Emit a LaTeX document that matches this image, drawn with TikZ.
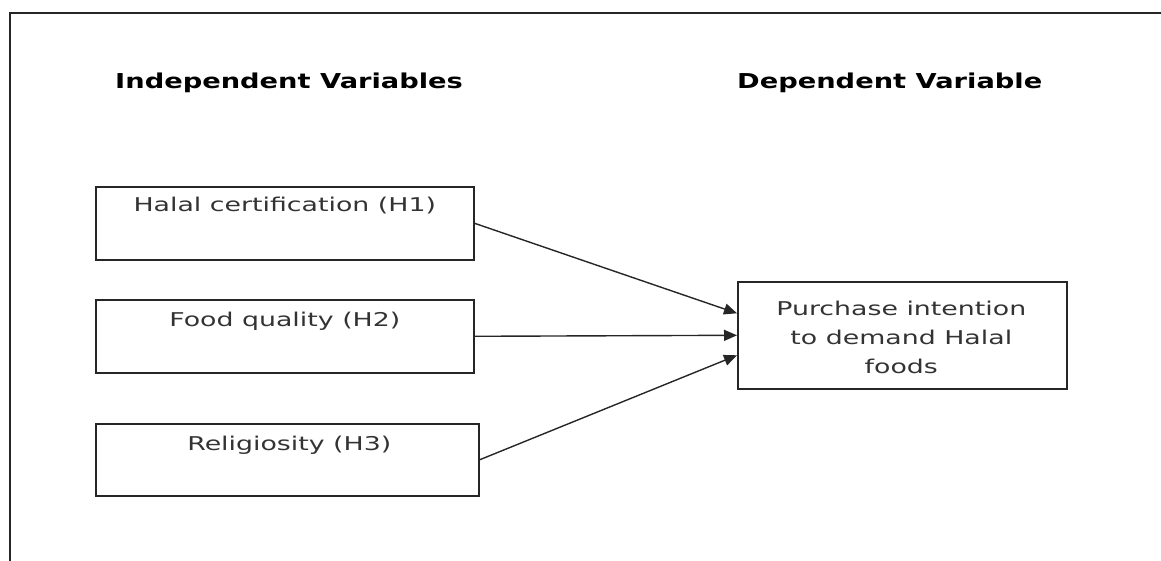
\documentclass[tikz,border=0pt]{standalone}
\usepackage{fontspec}
\setmainfont{DejaVu Sans}
\newfontfamily\boxfont[FakeStretch=1.41]{DejaVu Sans}
\newfontfamily\headfont[FakeStretch=1.33]{DejaVu Sans}
\usetikzlibrary{arrows.meta}
\begin{document}
\begin{tikzpicture}[x=1pt,y=-1pt,
  line/.style={line width=1.6pt,draw=black!85},
  varbox/.style={line, rectangle, inner sep=0pt, anchor=north west},
  boxtext/.style={font=\boxfont\fontsize{19}{29}\selectfont, text=black!80, inner sep=0pt, align=center},
  heading/.style={font=\headfont\bfseries\fontsize{20.5}{24}\selectfont, text=black, inner sep=0pt, anchor=west},
  conn/.style={line width=1.4pt, draw=black!85, -{Triangle[length=13pt,width=11pt]}}]
\useasboundingbox (0,0) rectangle (1161,561);
% frame
\draw[line] (10,561) -- (10,13) -- (1161,13);
% headings
\node[heading] (hi) at (115,83) {Independent Variables};
\node[heading] (hd) at (737,83) {Dependent Variable};
% boxes
\node[varbox, minimum width=378pt, minimum height=73pt] (h1) at (95,186) {};
\node[varbox, minimum width=378pt, minimum height=73pt] (h2) at (95,299) {};
\node[varbox, minimum width=383pt, minimum height=72pt] (h3) at (95,423) {};
\node[varbox, minimum width=329pt, minimum height=107pt] (t) at (737,281) {};
% texts
\node[boxtext] (t1) at ([yshift=-20pt]h1.north) {Halal certification (H1)};
\node[boxtext] (t2) at ([yshift=-22pt]h2.north) {Food quality (H2)};
\node[boxtext] (t3) at ([xshift=2pt,yshift=-22pt]h3.north) {Religiosity (H3)};
\node[boxtext] (tt) at ([xshift=-1pt,yshift=-2pt]t.center) {Purchase intention\\to demand Halal\\foods};
% connectors
\draw[conn] (h1.east) -- ([yshift=22pt]t.west);
\draw[conn] (h2.east) -- (t.west);
\draw[conn] (h3.east) -- ([yshift=-20pt]t.west);
\end{tikzpicture}
\end{document}
